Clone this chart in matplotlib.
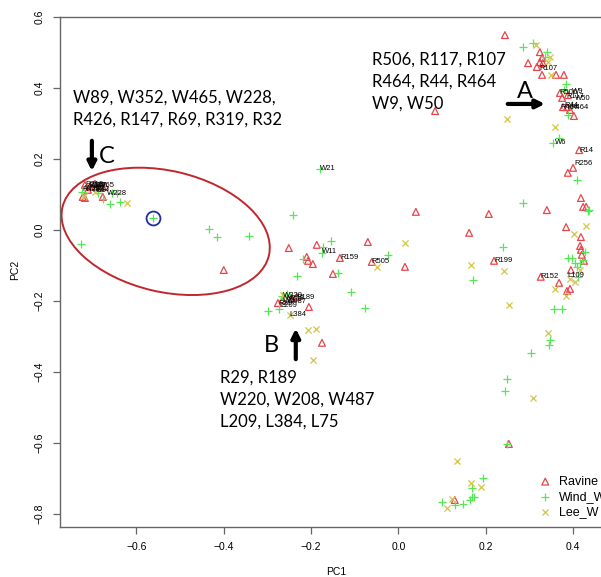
import matplotlib
matplotlib.use("Agg")
import matplotlib.pyplot as plt
from matplotlib.patches import Ellipse
from matplotlib.transforms import Affine2D, ScaledTranslation

# ---------------- data ----------------
ravine_x = [0.244, 0.324, 0.329, 0.297, 0.317, 0.331, 0.324, 0.329, 0.361, 0.379,
            0.370, 0.375, 0.388, 0.377, 0.386, 0.393, 0.402, 0.084,
            0.414, 0.400, 0.388, 0.418, 0.423, 0.430, 0.340, 0.384, 0.418, 0.416,
            0.418, 0.420, 0.425, 0.395, 0.326, 0.368, 0.393, 0.386,
            0.040, 0.207, 0.162, 0.015, 0.219,
            -0.251, -0.187, -0.210, -0.207, -0.196, -0.134, -0.070, -0.061, -0.150, -0.400,
            -0.276, -0.265, -0.244, -0.233, -0.205, -0.175,
            0.253, 0.129,
            -0.723, -0.677, -0.718, -0.718, -0.707, -0.695, -0.684, -0.672, -0.711]
ravine_y = [0.549, 0.501, 0.485, 0.470, 0.459, 0.470, 0.473, 0.437, 0.437, 0.437,
            0.386, 0.372, 0.380, 0.346, 0.346, 0.338, 0.321, 0.335,
            0.225, 0.175, 0.161, 0.090, 0.065, 0.065, 0.056, 0.008, -0.020, -0.045,
            -0.056, -0.070, -0.087, -0.113, -0.132, -0.149, -0.166, -0.172,
            0.051, 0.045, -0.008, -0.104, -0.087,
            -0.051, -0.042, -0.076, -0.087, -0.096, -0.079, -0.034, -0.090, -0.124, -0.113,
            -0.206, -0.197, -0.192, -0.189, -0.217, -0.318,
            -0.603, -0.761,
            0.093, 0.093, 0.090, 0.127, 0.121, 0.130, 0.118, 0.124, 0.113]

wind_x = [0.285, 0.308, 0.340, 0.336, 0.384, 0.379, 0.397, 0.388, 0.368, 0.354,
          0.409, 0.285, 0.434, 0.239, 0.388, 0.397, 0.427, 0.416, 0.409, 0.411,
          0.423, 0.436, 0.404,
          0.171, 0.356, 0.375, 0.347, 0.345, 0.304, 0.249, 0.244, -0.077, 0.249,
          0.100, 0.129, 0.148, 0.168, 0.168, 0.173, 0.194, 0.164,
          -0.180, -0.242, -0.155, -0.173, -0.175, -0.219, -0.233, -0.139, -0.109, -0.024,
          -0.434, -0.416, -0.343, -0.267, -0.299, -0.274, -0.255,
          -0.562, -0.727, -0.677, -0.661, -0.638, -0.725, -0.688, -0.656, -0.645]
wind_y = [0.515, 0.527, 0.501, 0.487, 0.411, 0.394, 0.352, 0.324, 0.259, 0.245,
          0.141, 0.076, 0.054, -0.048, -0.079, -0.079, -0.062, -0.093, -0.104, -0.132,
          -0.085, 0.056, -0.093,
          -0.141, -0.223, -0.223, -0.310, -0.324, -0.346, -0.420, -0.454, -0.220, -0.603,
          -0.766, -0.775, -0.772, -0.752, -0.727, -0.752, -0.699, -0.761,
          0.172, 0.042, -0.031, -0.048, -0.065, -0.082, -0.130, -0.121, -0.175, -0.070,
          0.003, -0.020, -0.017, -0.186, -0.228, -0.223, -0.180,
          0.034, -0.039, 0.087, 0.073, 0.079, 0.107, 0.104, 0.104, 0.104]

lee_x = [0.315, 0.347, 0.343, 0.349, 0.249, 0.359, 0.430, 0.402, 0.242, 0.359,
         0.384, 0.404, 0.393, 0.416,
         0.015, 0.166, 0.253, 0.308, 0.343, 0.134, 0.166, 0.189, 0.111, 0.123,
         -0.049, -0.249, -0.207, -0.189, -0.265, -0.196, -0.622, -0.720, -0.695]
lee_y = [0.521, 0.487, 0.473, 0.437, 0.313, 0.290, 0.011, -0.011, -0.115, -0.166,
         -0.186, -0.146, -0.138, -0.113,
         -0.037, -0.099, -0.211, -0.473, -0.290, -0.651, -0.713, -0.724, -0.783, -0.758,
         -0.104, -0.239, -0.282, -0.279, -0.183, -0.366, 0.076, 0.096, 0.107]

point_labels = ["R107", "R506", "R117", "W9", "W50", "R464", "R44", "R464",
                "W6", "R14", "R256", "R199", "R152", "L109",
                "W21", "W11", "R159", "R505",
                "W220", "W208", "R189", "W487", "R29", "L209", "L75", "L384",
                "W89", "W352", "W465", "W228", "R426", "R147", "R69", "R319", "R32"]
label_x = [0.322, 0.368, 0.384, 0.397, 0.404, 0.372, 0.381, 0.393,
           0.359, 0.414, 0.404, 0.219, 0.326, 0.388,
           -0.180, -0.175, -0.134, -0.061,
           -0.265, -0.260, -0.233, -0.255, -0.276, -0.271, -0.265, -0.249,
           -0.707, -0.718, -0.695, -0.668, -0.723, -0.711, -0.701, -0.718, -0.695]
label_y = [0.456, 0.386, 0.377, 0.389, 0.369, 0.346, 0.352, 0.344,
           0.245, 0.225, 0.186, -0.087, -0.132, -0.127,
           0.172, -0.062, -0.079, -0.090,
           -0.186, -0.194, -0.189, -0.203, -0.208, -0.214, -0.200, -0.239,
           0.124, 0.118, 0.124, 0.104, 0.113, 0.124, 0.110, 0.127, 0.113]

x_ticks = [-0.6, -0.4, -0.2, 0.0, 0.2, 0.4]
y_ticks = [-0.8, -0.6, -0.4, -0.2, 0.0, 0.2, 0.4, 0.6]
series_names = ["Ravine", "Wind_W", "Lee_W"]

# ---------------- figure ----------------
W, H, DPI = 601, 577, 100
fig = plt.figure(figsize=(W / DPI, H / DPI), dpi=DPI)
ax = fig.add_axes([60 / W, 50 / H, 1 - 60 / W, (527 - 17) / H])
ax.set_xlim(-0.775, 0.464)
ax.set_ylim(-0.837, 0.6)

red = "#e8454a"
green = "#55e855"
yellow = "#d4c64a"

ax.scatter(ravine_x, ravine_y, marker="^", s=24, facecolors="none",
           edgecolors=red, linewidths=0.9, label=series_names[0], zorder=3)
ax.scatter(wind_x, wind_y, marker="+", s=34, color=green, linewidths=0.9,
           label=series_names[1], zorder=3)
ax.scatter(lee_x, lee_y, marker="x", s=20, color=yellow, linewidths=0.9,
           label=series_names[2], zorder=3)

for t, x, y in zip(point_labels, label_x, label_y):
    ax.text(x, y, t, fontsize=5.5, family="Liberation Sans", ha="left",
            va="center", color="black", zorder=4)

# spines / ticks
for s in ["left", "bottom", "top"]:
    ax.spines[s].set_color("#666666")
    ax.spines[s].set_linewidth(1.0)
ax.spines["right"].set_visible(False)
ax.set_xticks(x_ticks)
ax.set_yticks(y_ticks)
ax.set_xticklabels([f"{v:.1f}".replace("-", "\u2212") for v in x_ticks])
ax.set_yticklabels([f"{v:.1f}".replace("-", "\u2212") for v in y_ticks],
                   rotation=90, va="center")
ax.tick_params(axis="both", direction="out", length=5, width=0.9,
               color="#666666", labelsize=7.5, pad=6)
for lab in ax.get_xticklabels() + ax.get_yticklabels():
    lab.set_family("Liberation Sans")

fig.text(336 / W, 1 - 572 / H, "PC1", ha="center", va="center",
         fontsize=7.5, family="Liberation Sans")
fig.text(15 / W, 1 - 270 / H, "PC2", ha="center", va="center", rotation=90,
         fontsize=7.5, family="Liberation Sans")

# ellipse and circle
ell = Ellipse((0, 0), 2 * 106, 2 * 60.5, angle=-13.2, fill=False,
              edgecolor="#c0272d", linewidth=1.4, zorder=2,
              transform=Affine2D() + ScaledTranslation(-0.533, -0.004, ax.transData))
ax.add_patch(ell)
ax.plot([-0.562], [0.034], marker="o", markersize=10, markerfacecolor="none",
        markeredgecolor="#1f2fa0", markeredgewidth=1.3, zorder=4)

# annotations
big = dict(fontsize=12, family="Lato", ha="left", va="center", color="black")
for txt, y in zip(["R506, R117, R107", "R464, R44, R464", "W9, W50"],
                  [0.479, 0.417, 0.356]):
    ax.text(-0.061, y, txt, **big)
for txt, y in zip(["W89, W352, W465, W228,", "R426, R147, R69, R319, R32"],
                  [0.372, 0.310]):
    ax.text(-0.746, y, txt, **big)
for txt, y in zip(["R29, R189", "W220, W208, W487", "L209, L384, L75"],
                  [-0.417, -0.479, -0.541]):
    ax.text(-0.409, y, txt, **big)

letter = dict(fontsize=17, family="Lato", ha="center", va="center", color="black")
ax.text(0.289, 0.389, "A", **letter)
ax.text(-0.668, 0.206, "C", **letter)
ax.text(-0.290, -0.327, "B", **letter)
arr = dict(arrowstyle="-|>,head_length=0.5,head_width=0.25", color="black", lw=3)
ax.annotate("", xy=(0.342, 0.355), xytext=(0.244, 0.355), arrowprops=arr)
ax.annotate("", xy=(-0.702, 0.158), xytext=(-0.702, 0.259), arrowprops=arr)
ax.annotate("", xy=(-0.235, -0.270), xytext=(-0.235, -0.372), arrowprops=arr)

leg = ax.legend(loc="center left", bbox_to_anchor=(539 / W, 1 - 497 / H),
                bbox_transform=fig.transFigure, frameon=False,
                handlelength=1.0, handletextpad=0.6, labelspacing=0.25,
                borderaxespad=0, borderpad=0, prop={"family": "Liberation Sans", "size": 9})

fig.savefig("out.png", dpi=DPI)
